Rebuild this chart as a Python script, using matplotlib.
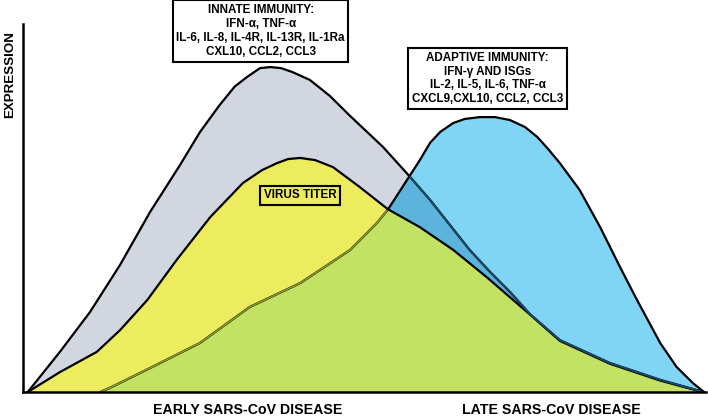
import numpy as np
import matplotlib
matplotlib.use("Agg")
import matplotlib.pyplot as plt
from matplotlib.patches import Polygon

# ---------------- data (time 0-100, expression 0-100) ----------------
innate_t = [0.7, 5.4, 9.8, 14.2, 18.6, 23.0, 25.9, 28.8, 31.0, 32.8, 34.7, 36.2, 37.8, 39.5,
            42.0, 44.9, 47.9, 52.7, 56.7, 59.6, 62.5, 65.4, 68.4, 71.3, 74.2, 78.6, 85.9,
            93.3, 98.1, 99.6]
innate_y = [0.0, 10.9, 21.7, 34.5, 48.9, 61.7, 70.6, 78.0, 83.0, 85.6, 88.0, 88.3, 88.0, 86.9,
            84.8, 80.5, 75.0, 66.6, 58.4, 52.2, 45.4, 38.6, 32.6, 27.2, 21.2, 14.1, 7.9,
            3.3, 0.8, 0.0]

virus_t = [0.7, 5.4, 10.8, 14.2, 18.2, 22.5, 27.4, 32.2, 35.0, 37.2, 38.8, 40.6, 42.8, 45.4,
           49.3, 53.4, 58.1, 63.0, 67.9, 74.2, 78.6, 85.9, 93.3, 98.1, 99.5]
virus_y = [0.0, 5.4, 10.9, 16.8, 25.0, 35.9, 47.5, 56.8, 60.3, 62.2, 63.3, 63.6, 63.0, 61.1,
           55.7, 49.7, 44.8, 38.6, 31.2, 21.1, 13.9, 7.7, 3.1, 0.7, 0.0]

adapt_t = [11.3, 12.7, 18.6, 25.9, 33.2, 40.6, 47.9, 51.8, 53.4, 56.5, 58.1, 59.6, 61.1,
           63.0, 64.7, 66.9, 69.1, 71.3, 73.5, 75.3, 76.9, 78.6, 81.5, 84.5, 87.4, 89.9,
           93.3, 95.7, 98.1, 99.7]
adapt_y = [0.0, 1.1, 6.5, 13.3, 23.1, 29.6, 38.6, 45.9, 49.5, 58.4, 63.0, 67.7, 70.7,
           73.1, 74.2, 74.7, 74.7, 73.9, 72.0, 69.3, 66.0, 62.2, 54.9, 44.8, 34.0, 25.0,
           13.3, 6.8, 2.4, 0.0]

innate_lines = ["INNATE IMMUNITY:", "IFN-α, TNF-α", "IL-6, IL-8, IL-4R, IL-13R, IL-1Ra",
                "CXL10, CCL2, CCL3"]
adapt_lines = ["ADAPTIVE IMMUNITY:", "IFN-γ AND ISGs", "IL-2, IL-5, IL-6, TNF-α",
               "CXCL9,CXL10, CCL2, CCL3"]
virus_label = "VIRUS TITER"
x_labels = ["EARLY SARS-CoV DISEASE", "LATE SARS-CoV DISEASE"]
y_label = "EXPRESSION"

# ---------------- style ----------------
plt.rcParams['font.family'] = ['Liberation Sans', 'DejaVu Sans']
plt.rcParams['font.weight'] = 'bold'

C_GRAY = "#d2d6e1"
C_YEL = "#ecec5e"
C_BLUE = "#80d4f4"
C_GREEN = "#c3e264"
C_DBLUE = "#5cb4dc"

fig = plt.figure(figsize=(7.08, 4.16), dpi=100)
W, H = 708, 416
ax = fig.add_axes([23 / W, (416 - 392) / H, (706 - 23) / W, (392 - 24) / H])
ax.set_xlim(0, 100)
ax.set_ylim(0, 100)
for s in ["top", "right"]:
    ax.spines[s].set_visible(False)
for s in ["left", "bottom"]:
    ax.spines[s].set_linewidth(1.8)
    ax.spines[s].set_color("black")
    ax.spines[s].set_zorder(10)
ax.set_xticks([])
ax.set_yticks([])

gx, gy = np.array(innate_t), np.array(innate_y)
vx, vy = np.array(virus_t), np.array(virus_y)
bx, by = np.array(adapt_t), np.array(adapt_y)

# clip polygons
gpoly = Polygon(np.column_stack([gx, gy]), closed=True, facecolor="none", edgecolor="none")
vpoly = Polygon(np.column_stack([vx, vy]), closed=True, facecolor="none", edgecolor="none")
bpoly = Polygon(np.column_stack([bx, by]), closed=True, facecolor="none", edgecolor="none")
for p in (gpoly, vpoly, bpoly):
    ax.add_patch(p)

ax.fill_between(gx, gy, color=C_GRAY, lw=0, zorder=1)
ax.fill_between(vx, vy, color=C_YEL, lw=0, zorder=2)
ax.fill_between(bx, by, color=C_BLUE, lw=0, zorder=3)
d = ax.fill_between(bx, by, color=C_DBLUE, lw=0, zorder=4)
d.set_clip_path(gpoly)
g = ax.fill_between(bx, by, color=C_GREEN, lw=0, zorder=5)
g.set_clip_path(vpoly)

# outlines
ax.plot(bx, by, color="black", lw=1.6, zorder=6, solid_joinstyle="round")
lb = ax.plot(bx, by, color="#8c9c2a", lw=1.2, zorder=7)[0]
lb.set_clip_path(vpoly)
ax.plot(vx, vy, color="black", lw=1.6, zorder=8, solid_joinstyle="round")
ax.plot(gx, gy, color="black", lw=1.6, zorder=9, solid_joinstyle="round")
li = ax.plot(gx, gy, color="#1d4a66", lw=1.4, zorder=9.5)[0]
li.set_clip_path(bpoly)

# annotation boxes
box = dict(boxstyle="square,pad=0.3", facecolor="white", edgecolor="black", lw=1.5)
ax.text(34.8, 98.1, "\n".join(innate_lines), ha="center", va="center", fontsize=8.4,
        fontweight="bold", linespacing=1.25, bbox=box, zorder=20, clip_on=False)
ax.text(68.0, 85.2, "\n".join(adapt_lines), ha="center", va="center", fontsize=8.4,
        fontweight="bold", linespacing=1.2, bbox=box, zorder=20, clip_on=False)
vbox = dict(boxstyle="square,pad=0.3", facecolor="none", edgecolor="black", lw=1.5)
ax.text(40.6, 53.4, virus_label, ha="center", va="center", fontsize=8.4,
        fontweight="bold", bbox=vbox, zorder=20)

fig.text(248 / W, 1 - 410 / H, x_labels[0], ha="center", va="center", fontsize=10.2,
         fontweight="bold")
fig.text(551 / W, 1 - 410 / H, x_labels[1], ha="center", va="center", fontsize=10.2,
         fontweight="bold")
fig.text(10 / W, 1 - 75 / H, y_label, ha="center", va="center", rotation=90,
         fontsize=9.6, fontweight="bold")

fig.savefig("out.png", dpi=100)
